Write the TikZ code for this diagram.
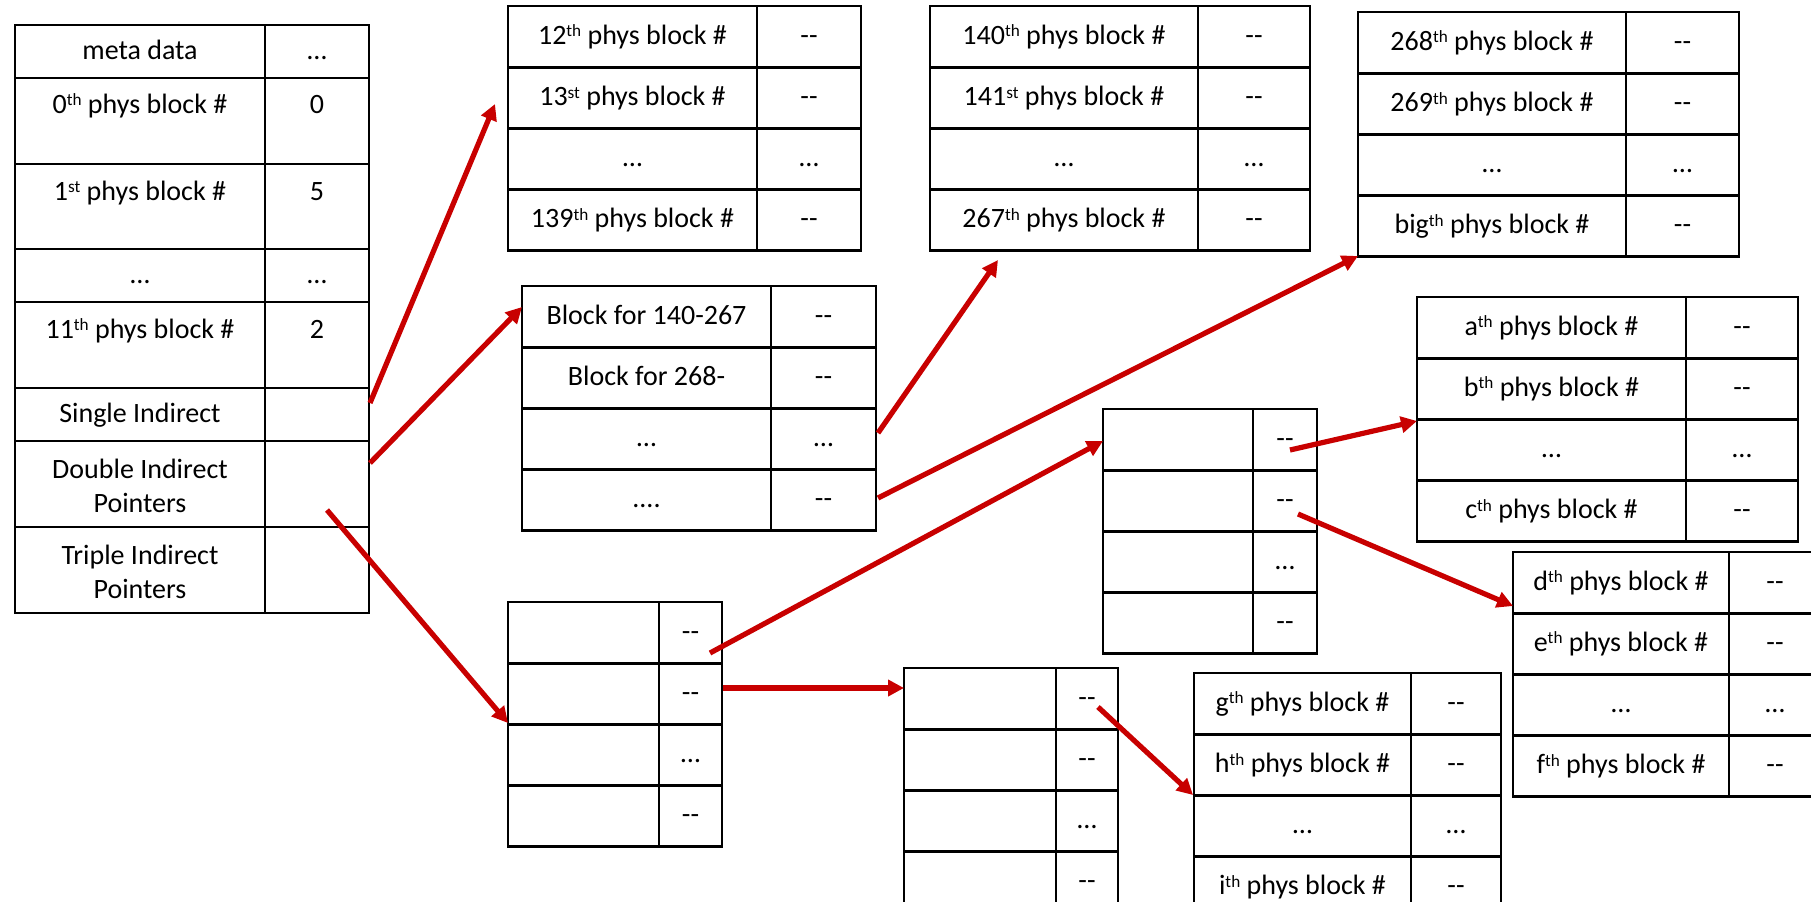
\documentclass[tikz,border=0pt]{standalone}
\usepackage{fontspec}
\setmainfont{Carlito}
\usetikzlibrary{arrows.meta}
\definecolor{arrowred}{RGB}{200,0,0}
\newcommand\dd{-\kern0pt-}
\newcommand\fourdots{....}
\newcommand\sups[1]{\raisebox{0.26em}{\fontsize{8.6}{9}\selectfont #1}}
\newcommand\cellfont{\fontsize{14}{17}\selectfont}
\tikzset{
  cellbox/.style={draw, line width=1.4pt, inner sep=0pt, outer sep=0pt, anchor=north west, font=\cellfont, align=center, text height=0.85em, text depth=0.1em},
  celltext/.style={inner sep=0pt, font=\cellfont, anchor=base},
  ptr/.style={draw=arrowred, line width=2.6pt, -{Triangle[length=8pt,width=8pt]}}
}
% name, x0, xdiv, x1, y0, row height, list of left/right
\newcommand\blocktab[7]{%
  \foreach \lt/\rt [count=\rowidx] in {#7} {
    \node[cellbox, minimum width={(#3-#2)*0.5pt}, minimum height={#6*0.5pt}]
      (#1-\rowidx-l) at (#2, {#5+(\rowidx-1)*#6}) {\lt};
    \node[cellbox, minimum width={(#4-#3)*0.5pt}, minimum height={#6*0.5pt}]
      (#1-\rowidx-r) at (#3, {#5+(\rowidx-1)*#6}) {\rt};
  }%
}
% name, x0, x1, y0, y1, text
\newcommand\zcell[6]{%
  \node[cellbox, minimum width={(#3-#2)*0.5pt}, minimum height={(#5-#4)*0.5pt}] (#1) at (#2,#4) {#6};%
}
\begin{document}
\begin{tikzpicture}[x=0.5pt,y=-0.5pt]
\useasboundingbox (0,0) rectangle (1811,901);
\clip (0,0) rectangle (1811,901);

% inode table
\zcell{t0-0-l}{15}{265}{25}{78}{meta data}
\zcell{t0-0-r}{265}{369}{25}{78}{…}
\zcell{t0-1-l}{15}{265}{78}{164}{}
\zcell{t0-1-r}{265}{369}{78}{164}{}
\zcell{t0-2-l}{15}{265}{164}{249}{}
\zcell{t0-2-r}{265}{369}{164}{249}{}
\zcell{t0-3-l}{15}{265}{249}{302}{…}
\zcell{t0-3-r}{265}{369}{249}{302}{…}
\zcell{t0-4-l}{15}{265}{302}{388}{}
\zcell{t0-4-r}{265}{369}{302}{388}{}
\zcell{t0-5-l}{15}{265}{388}{441}{Single Indirect}
\zcell{t0-5-r}{265}{369}{388}{441}{}
\zcell{t0-6-l}{15}{265}{441}{527}{}
\zcell{t0-6-r}{265}{369}{441}{527}{}
\zcell{t0-7-l}{15}{265}{527}{613}{}
\zcell{t0-7-r}{265}{369}{527}{613}{}
\node[celltext] (t0-1-lt) at (140,113) {0\sups{th} phys block \#};
\node[celltext] (t0-1-rt) at (317,113) {0};
\node[celltext] (t0-2-lt) at (140,200) {1\sups{st} phys block \#};
\node[celltext] (t0-2-rt) at (317,200) {5};
\node[celltext] (t0-4-lt) at (140,338) {11\sups{th} phys block \#};
\node[celltext] (t0-4-rt) at (317,338) {2};
\node[celltext] (t0-6-lt1) at (140,478) {Double Indirect};
\node[celltext] (t0-6-lt2) at (140,512) {Pointers};
\node[celltext] (t0-7-lt1) at (140,564) {Triple Indirect};
\node[celltext] (t0-7-lt2) at (140,598) {Pointers};

% single indirect block
\blocktab{t1}{508}{757}{861}{6}{61.2}{12\sups{th} phys block \#/\dd, 13\sups{st} phys block \#/\dd, …/…, 139\sups{th} phys block \#/\dd}
% double indirect: data blocks
\blocktab{t2}{930}{1198}{1310}{6}{61.2}{140\sups{th} phys block \#/\dd, 141\sups{st} phys block \#/\dd, …/…, 267\sups{th} phys block \#/\dd}
\blocktab{t3}{1358}{1626}{1739}{12}{61.2}{268\sups{th} phys block \#/\dd, 269\sups{th} phys block \#/\dd, …/…, big\sups{th} phys block \#/\dd}
\blocktab{t4}{522}{771}{876}{286}{61.2}{Block for 140-267/\dd, Block for 268-/\dd, …/…, \fourdots/\dd}
% triple indirect
\blocktab{t5}{1103}{1253}{1317}{409}{61.1}{{}/\dd, {}/\dd, {}/…, {}/\dd}
\blocktab{t6}{1417}{1686}{1798}{297}{61.1}{a\sups{th} phys block \#/\dd, b\sups{th} phys block \#/\dd, …/…, c\sups{th} phys block \#/\dd}
\blocktab{t7}{1513}{1729}{1821}{552}{61.1}{d\sups{th} phys block \#/\dd, e\sups{th} phys block \#/\dd, …/…, f\sups{th} phys block \#/\dd}
\blocktab{t8}{508}{659}{722}{602}{61.1}{{}/\dd, {}/\dd, {}/…, {}/\dd}
\blocktab{t9}{904}{1056}{1118}{668}{61.1}{{}/\dd, {}/\dd, {}/…, {}/\dd}
\blocktab{t10}{1194}{1411}{1501}{673}{61.2}{g\sups{th} phys block \#/\dd, h\sups{th} phys block \#/\dd, …/…, i\sups{th} phys block \#/\dd}

% arrow end points
\coordinate (a1s) at (370,403);  \coordinate (a1e) at (495,104);
\coordinate (a2s) at (370,463);  \coordinate (a2e) at (522,307);
\coordinate (a3s) at (327,510);  \coordinate (a3e) at (508,723);
\coordinate (a4s) at (878,433);  \coordinate (a4e) at (998,260);
\coordinate (a5s) at (878,498);  \coordinate (a5e) at (1358,256);
\coordinate (a6s) at (710,653);  \coordinate (a6e) at (1103,441);
\coordinate (a7s) at (723,688);  \coordinate (a7e) at (904,688);
\coordinate (a8s) at (1290,450); \coordinate (a8e) at (1417,421);
\coordinate (a9s) at (1298,514); \coordinate (a9e) at (1513,606);
\coordinate (a10s) at (1098,707); \coordinate (a10e) at (1193,795);

\foreach \k in {1,...,10} { \draw[ptr] (a\k s) -- (a\k e); }
\end{tikzpicture}
\end{document}
